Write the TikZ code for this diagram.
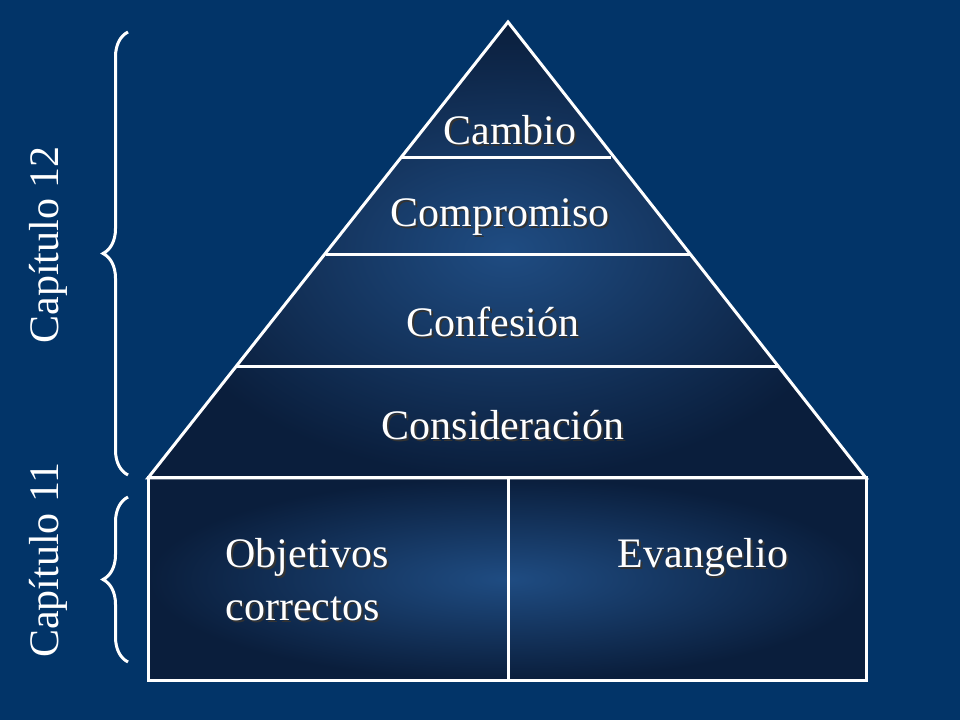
\documentclass[tikz,border=0pt]{standalone}
\usepackage{fontspec}
\setmainfont{Liberation Serif}
\usetikzlibrary{decorations.pathreplacing}
\definecolor{bg}{HTML}{023468}
\definecolor{inner}{HTML}{1F4C82}
\definecolor{outer}{HTML}{0A1E3C}
\tikzset{
 lbl/.style={text=white,font=\fontsize{42}{50}\selectfont},
 sh/.style={text=black!80,font=\fontsize{42}{50}\selectfont},
 edge/.style={draw=white,line width=3pt},
 br/.style={draw=white,line width=3pt,decorate,decoration={brace,amplitude=25pt}}
}
\newcommand{\stxt}[4]{\node[sh,#4] at (#1+2,#2-2) {#3};\node[lbl,#4] at (#1,#2) {#3};}
\begin{document}
\begin{tikzpicture}[x=1pt,y=1pt]
\fill[bg] (0,0) rectangle (960,720);
\shade[inner color=inner,outer color=outer] (508,698) -- (866,242) -- (148,242) -- cycle;
\shade[inner color=inner,outer color=outer] (148,242) rectangle (866,40);
\draw[edge] (508,698) -- (866,242) -- (148,242) -- cycle;
\draw[edge] (148,242) rectangle (866,40);
\draw[edge] (508,242) -- (508,40);
\draw[edge] (402,562) -- (611,562);
\draw[edge] (326,465) -- (690,465);
\draw[edge] (237,353) -- (779,353);
\stxt{510}{590}{Cambio}{}
\stxt{500}{503}{Compromiso}{}
\stxt{493}{398}{Confesión}{}
\stxt{503}{295}{Consideración}{}
\stxt{222}{163}{Objetivos}{anchor=west}
\stxt{222}{111}{correctos}{anchor=west}
\stxt{703}{163}{Evangelio}{}
\draw[br] (128,245) -- (128,688);
\draw[br] (128,58) -- (128,223);
\node[lbl,rotate=90] at (48,475) {Capítulo 12};
\node[lbl,rotate=90] at (48,160) {Capítulo 11};
\end{tikzpicture}
\end{document}
